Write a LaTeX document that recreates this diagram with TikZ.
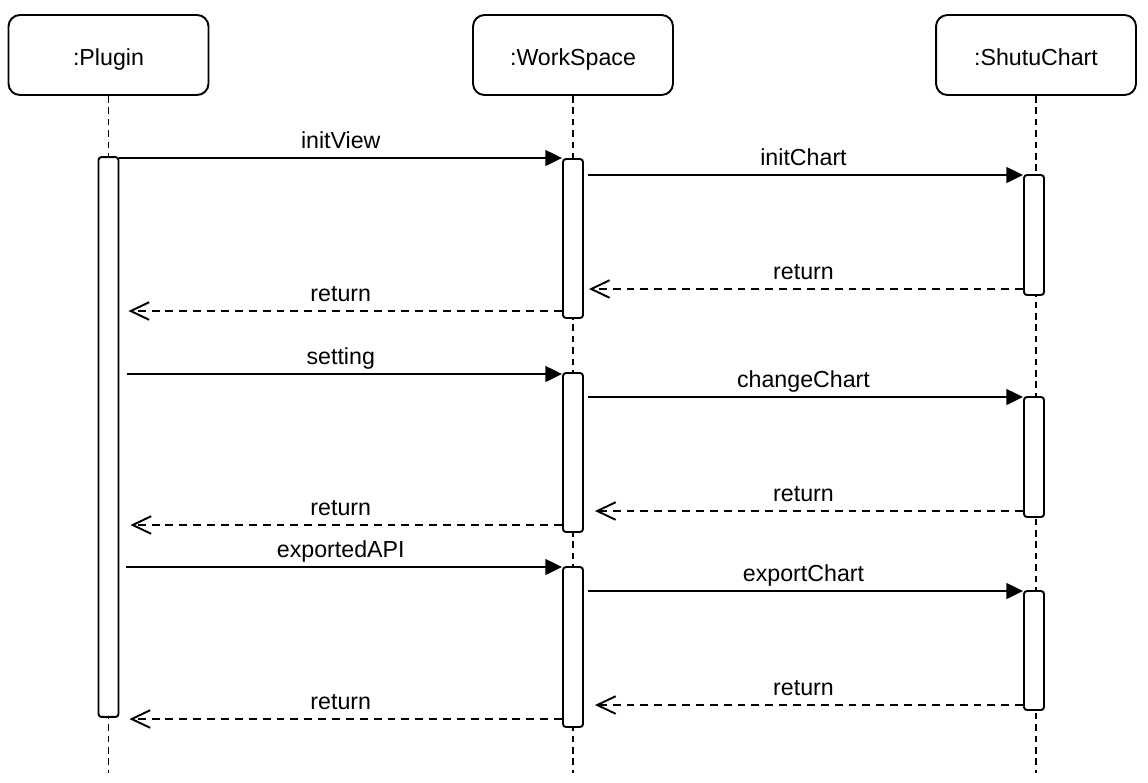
\documentclass[tikz,border=0pt]{standalone}
\usepackage{fontspec}
\setmainfont{Liberation Sans}
\usetikzlibrary{arrows.meta}

\begin{document}
\begin{tikzpicture}[x=0.02cm, y=-0.02cm, line width=1.1pt,
        every node/.style={font=\fontsize{13.2}{16}\selectfont},
        head/.style={draw, rounded corners=6.5pt, minimum width=4cm, minimum height=1.6cm, inner sep=0pt,
                     text height=12.5pt, text depth=0pt},
        actbar/.style={draw, fill=white, rounded corners=1.7pt, minimum width=0.4cm, inner sep=0pt},
        life/.style={dash pattern=on 3.8pt off 2.7pt},
        call/.style={-{Triangle[length=9.5pt, width=9pt]}},
        ret/.style={dash pattern=on 4.5pt off 3.4pt, -{Straight Barb[length=10.5pt, width=10pt]}},
        lbl/.style={midway, anchor=base, yshift=0.2cm}]
            \useasboundingbox                                     (0,0) rectangle (1148,782);
            \node[head]                            (plugin)    at ( 108.5, 55.0) {:Plugin};
            \node[head]                            (workspace) at ( 573.0, 55.0) {:WorkSpace};
            \node[head]                            (shutu)     at (1036.0, 55.0) {:ShutuChart};
            \draw[life] (plugin.south)    -- (plugin.south    |- 0,773);
            \draw[life] (workspace.south) -- (workspace.south |- 0,773);
            \draw[life] (shutu.south)     -- (shutu.south     |- 0,773);
            \node[actbar, minimum height=11.20cm]  (pbar)      at ( 108.5,437.0) {};
            \node[actbar, minimum height= 3.18cm]  (wbar1)     at ( 573.0,238.5) {};
            \node[actbar, minimum height= 3.18cm]  (wbar2)     at ( 573.0,452.5) {};
            \node[actbar, minimum height= 3.20cm]  (wbar3)     at ( 573.0,647.0) {};
            \node[actbar, minimum height= 2.40cm]  (sbar1)     at (1034.0,235.0) {};
            \node[actbar, minimum height= 2.40cm]  (sbar2)     at (1034.0,457.0) {};
            \node[actbar, minimum height= 2.38cm]  (sbar3)     at (1034.0,650.5) {};
            \draw[call]                     (pbar.east  |- 0,158) -- (wbar1.west |- 0,158) node[lbl] {initView};
            \draw[call, shorten <=0.08cm]   (wbar1.east |- 0,175) -- (sbar1.west |- 0,175) node[lbl] {initChart};
            \draw[ret,  shorten >=0.10cm]   (sbar1.west |- 0,289) -- (wbar1.east |- 0,289) node[lbl] {return};
            \draw[ret,  shorten >=0.18cm]   (wbar1.west |- 0,311) -- (pbar.east  |- 0,311) node[lbl] {return};
            \draw[call, shorten <=0.16cm]   (pbar.east  |- 0,374) -- (wbar2.west |- 0,374) node[lbl] {setting};
            \draw[call, shorten <=0.08cm]   (wbar2.east |- 0,397) -- (sbar2.west |- 0,397) node[lbl] {changeChart};
            \draw[ret,  shorten >=0.22cm]   (sbar2.west |- 0,511) -- (wbar2.east |- 0,511) node[lbl] {return};
            \draw[ret,  shorten >=0.22cm]   (wbar2.west |- 0,525) -- (pbar.east  |- 0,525) node[lbl] {return};
            \draw[call, shorten <=0.14cm]   (pbar.east  |- 0,567) -- (wbar3.west |- 0,567) node[lbl] {exportedAPI};
            \draw[call, shorten <=0.08cm]   (wbar3.east |- 0,591) -- (sbar3.west |- 0,591) node[lbl] {exportChart};
            \draw[ret,  shorten >=0.22cm]   (sbar3.west |- 0,705) -- (wbar3.east |- 0,705) node[lbl] {return};
            \draw[ret,  shorten >=0.20cm]   (wbar3.west |- 0,719) -- (pbar.east  |- 0,719) node[lbl] {return};
\end{tikzpicture}
\end{document}
